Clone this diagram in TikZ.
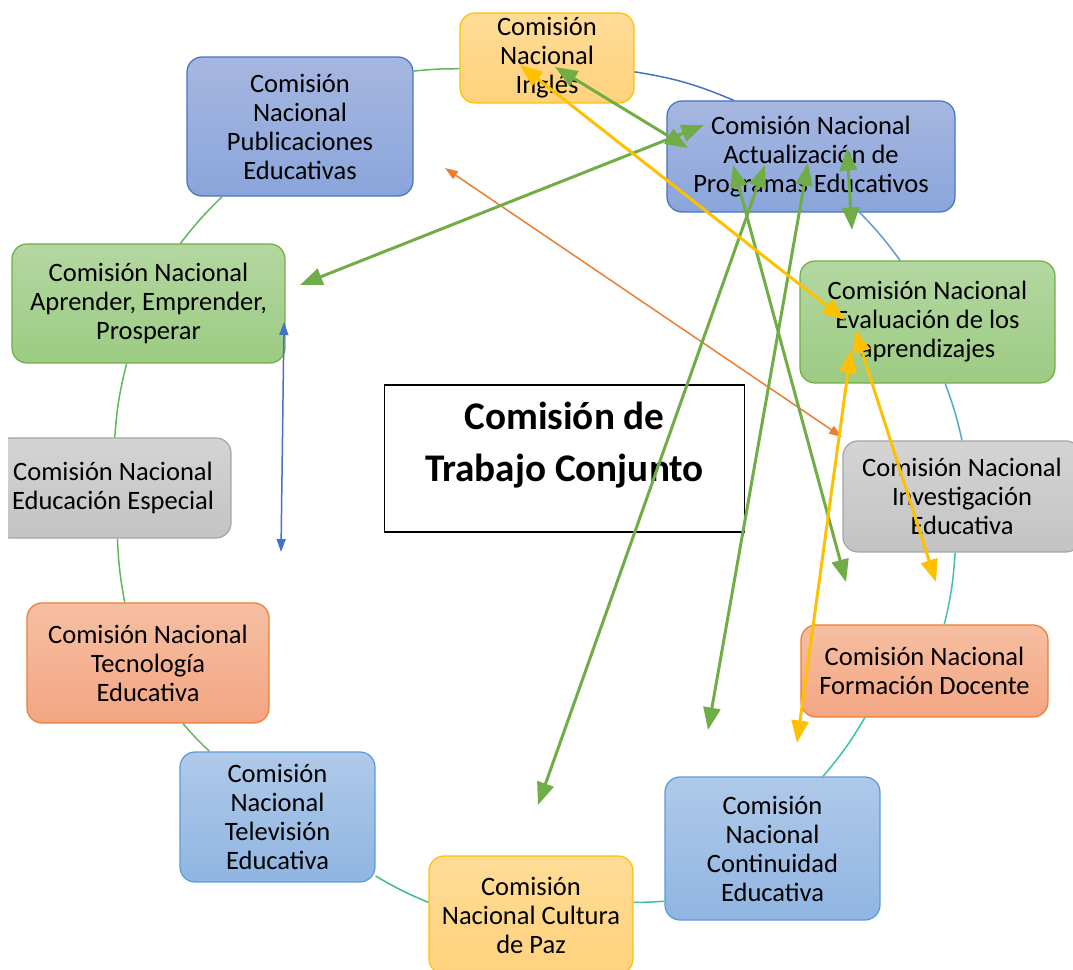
\documentclass[tikz,border=0pt]{standalone}
\usepackage{fontspec}
\setmainfont{Carlito}
\usetikzlibrary{arrows.meta}
\definecolor{blueD}{HTML}{4472C4}
\definecolor{blueT}{HTML}{A6B7E0}
\definecolor{blueB}{HTML}{8AA5DB}
\definecolor{lblueD}{HTML}{5B9BD5}
\definecolor{lblueT}{HTML}{AFC9E9}
\definecolor{lblueB}{HTML}{90B5E2}
\definecolor{greenD}{HTML}{70AD47}
\definecolor{greenT}{HTML}{B4D7A1}
\definecolor{greenB}{HTML}{9CCB82}
\definecolor{grayD}{HTML}{A5A5A5}
\definecolor{grayT}{HTML}{D4D4D4}
\definecolor{grayB}{HTML}{C3C3C3}
\definecolor{orangeD}{HTML}{ED7D31}
\definecolor{orangeT}{HTML}{F6BFA2}
\definecolor{orangeB}{HTML}{F3A683}
\definecolor{goldD}{HTML}{FFC000}
\definecolor{goldT}{HTML}{FFDC97}
\definecolor{goldB}{HTML}{FFD27D}
\definecolor{ringG}{HTML}{5DB85C}
\definecolor{ringGT}{HTML}{3DBB8A}
\definecolor{ringT}{HTML}{3FBFA6}
\definecolor{ringC}{HTML}{45BDBA}
\definecolor{ringL}{HTML}{4BACC6}
\begin{document}
\begin{tikzpicture}[x=0.02cm,y=0.02cm,
  box/.style={draw, line width=0.7pt, rounded corners=0.3cm, align=center,
    inner sep=0pt, font=\fontsize{15.1}{16.5}\selectfont, text=black},
  bluebox/.style={box, draw=blueD, top color=blueT, bottom color=blueB},
  lbluebox/.style={box, draw=lblueD, top color=lblueT, bottom color=lblueB},
  greenbox/.style={box, draw=greenD, top color=greenT, bottom color=greenB},
  graybox/.style={box, draw=grayD, top color=grayT, bottom color=grayB},
  orangebox/.style={box, draw=orangeD, top color=orangeT, bottom color=orangeB},
  goldbox/.style={box, draw=goldD, top color=goldT, bottom color=goldB},
  ring/.style={line width=0.85pt},
  bigarrow/.style={line width=1.7pt,
    {Triangle[length=0.45cm,width=0.34cm]}-{Triangle[length=0.45cm,width=0.34cm]}},
  smallarrow/.style={line width=0.85pt,
    {Triangle[length=0.26cm,width=0.18cm]}-{Triangle[length=0.26cm,width=0.18cm]}}
]
\useasboundingbox (0,0) rectangle (1073,970);
\begin{scope}
\clip (8,0) rectangle (1073,970);
% nodes
\node[goldbox, minimum width=3.48cm, minimum height=1.8cm] (ing) at (547,912) {Comisión\\Nacional\\Inglés};
\node[bluebox, minimum width=4.52cm, minimum height=2.78cm] (pub) at (300,843.5) {Comisión\\Nacional\\Publicaciones\\Educativas};
\node[bluebox, minimum width=5.76cm, minimum height=2.22cm] (act) at (811,813.5) {Comisión Nacional\\Actualización de\\Programas Educativos};
\node[greenbox, minimum width=5.46cm, minimum height=2.38cm] (apr) at (148.5,666.5) {Comisión Nacional\\Aprender, Emprender,\\Prosperar};
\node[greenbox, minimum width=5.10cm, minimum height=2.44cm] (eva) at (927.5,648) {Comisión Nacional\\Evaluación de los\\aprendizajes};
\node[graybox, minimum width=4.72cm, minimum height=2.0cm] (esp) at (113,482) {Comisión Nacional\\Educación Especial};
\node[graybox, minimum width=4.76cm, minimum height=2.22cm] (inv) at (962,473.5) {Comisión Nacional\\Investigación\\Educativa};
\node[orangebox, minimum width=4.84cm, minimum height=2.40cm] (tec) at (148,307) {Comisión Nacional\\Tecnología\\Educativa};
\node[orangebox, minimum width=4.94cm, minimum height=1.84cm] (form) at (924.5,299) {Comisión Nacional\\Formación Docente};
\node[lbluebox, minimum width=3.90cm, minimum height=2.60cm] (tel) at (277.5,153) {Comisión\\Nacional\\Televisión\\Educativa};
\node[lbluebox, minimum width=4.30cm, minimum height=2.86cm] (con) at (772.5,121.5) {Comisión\\Nacional\\Continuidad\\Educativa};
\node[goldbox, minimum width=4.08cm, minimum height=2.36cm] (paz) at (531,55) {Comisión\\Nacional Cultura\\de Paz};
\node[draw=black, line width=0.6pt, fill=white, align=center, inner sep=0pt,
  minimum width=7.22cm, minimum height=2.94cm,
  font=\fontsize{22.3}{30}\selectfont\bfseries] (ctr) at (564.5,511.5) {Comisión de\\Trabajo Conjunto\\[-11pt]\mbox{}};
% ring
\draw[ring, ringG] (ing.187) to[bend right=3] (pub.26);
\draw[ring, ringG] (pub.222) to[bend right=4] (apr.62);
\draw[ring, ringG] (apr.250) to[bend right=5] (esp.88);
\draw[ring, ringG] (esp.275) to[bend right=4] (tec.111);
\draw[ring, ringG] (tec.300) to[bend right=3] (tel.136);
\draw[ring, ringGT] (tel.329) to[bend right=4] (paz.173);
\draw[ring, ringT] (paz.7) to[bend right=2] (con.206);
\draw[ring, ringT] (con.55) to[bend right=5] (form.218);
\draw[ring, ringC] (form.67) to[bend right=5] (inv.263);
\draw[ring, ringL] (inv.90) to[bend right=4] (eva.286);
\draw[ring, lblueD] (eva.114) to[bend right=4] (act.311);
\draw[ring, blueD] (act.144) to[bend right=7] (ing.351);
% arrow end points
\coordinate (fa) at (300,685); \coordinate (fb) at (704,845);
\coordinate (ga) at (555,903); \coordinate (gb) at (688,822);
\coordinate (ha) at (847,822); \coordinate (hb) at (852,740);
\coordinate (ia) at (733,805); \coordinate (ib) at (846,388);
\coordinate (ja) at (765,805); \coordinate (jb) at (538,165);
\coordinate (ka) at (808,807); \coordinate (kb) at (708,240);
\coordinate (ca) at (520,905); \coordinate (cb) at (845,650);
\coordinate (da) at (855,640); \coordinate (db) at (936,388);
\coordinate (ea) at (851,620); \coordinate (eb) at (797,227);
\coordinate (oa) at (445,802); \coordinate (ob) at (842,533);
\coordinate (ba) at (284,648); \coordinate (bb) at (281,418);
% arrows
\draw[smallarrow, orangeD] (oa) -- (ob);
\draw[smallarrow, blueD] (ba) -- (bb);
\draw[bigarrow, greenD] (fa) -- (fb);
\draw[bigarrow, greenD] (ga) -- (gb);
\draw[bigarrow, greenD] (ha) -- (hb);
\draw[bigarrow, greenD] (ia) -- (ib);
\draw[bigarrow, greenD] (ja) -- (jb);
\draw[bigarrow, greenD] (ka) -- (kb);
\draw[bigarrow, goldD] (ca) -- (cb);
\draw[bigarrow, goldD] (da) -- (db);
\draw[bigarrow, goldD] (ea) -- (eb);
\end{scope}
\end{tikzpicture}
\end{document}
